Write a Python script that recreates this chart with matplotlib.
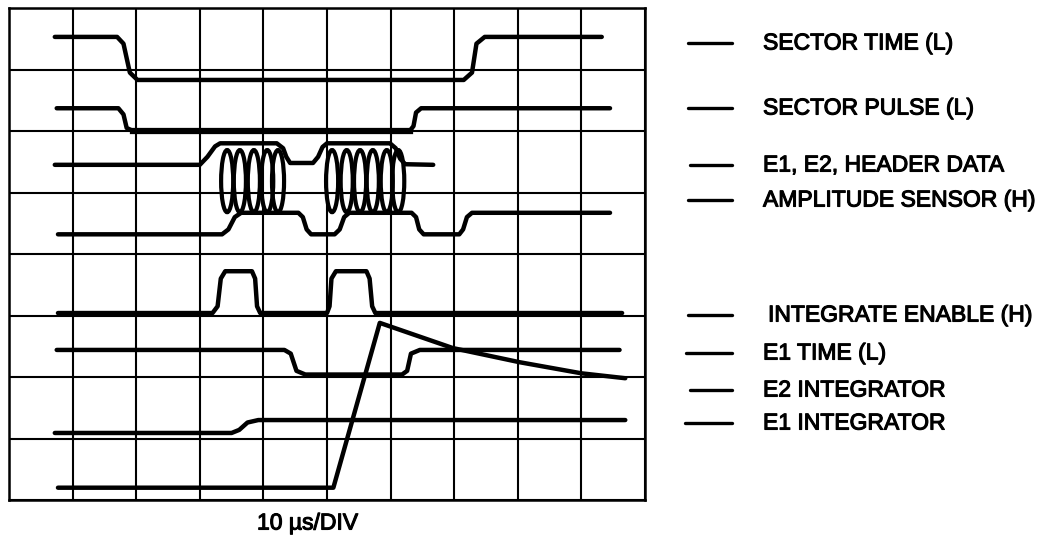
import matplotlib
matplotlib.use("Agg")
import matplotlib.pyplot as plt
import matplotlib.patheffects as pe
from matplotlib.patches import Ellipse

# traces, in divisions (x: 10 div across, y: 8 div up)
sector_time_x = [0.72, 1.70, 1.80, 1.90, 2.02, 7.15, 7.28, 7.35, 7.48, 9.32]
sector_time_y = [7.53, 7.53, 7.42, 6.95, 6.83, 6.83, 6.95, 7.42, 7.53, 7.53]

sector_pulse_x = [0.75, 1.72, 1.80, 1.85, 1.95, 6.30, 6.36, 6.40, 6.48, 9.45]
sector_pulse_y = [6.37, 6.37, 6.27, 6.05, 6.00, 6.00, 6.08, 6.30, 6.37, 6.37]

header_x = [0.72, 3.00, 3.12, 3.24, 3.32, 4.21, 4.31, 4.36, 4.42, 4.78, 4.86, 4.93, 5.00,
            5.99, 6.08, 6.15, 6.23, 6.67]
header_y = [5.45, 5.45, 5.58, 5.75, 5.80, 5.80, 5.72, 5.58, 5.48, 5.48, 5.58, 5.74, 5.80,
            5.80, 5.72, 5.55, 5.46, 5.45]
burst1_loops = [3.43, 3.63, 3.85, 4.06, 4.23]
burst2_loops = [5.08, 5.31, 5.52, 5.72, 5.94, 6.12]
loop_top = 5.69
loop_bottom = 4.68

amp_x = [0.77, 3.35, 3.45, 3.55, 3.65, 4.55, 4.62, 4.68, 4.75, 5.12, 5.20, 5.27, 5.35,
         6.33, 6.40, 6.45, 6.52, 7.08, 7.14, 7.20, 7.28, 9.45]
amp_y = [4.32, 4.32, 4.40, 4.60, 4.67, 4.67, 4.60, 4.40, 4.32, 4.32, 4.40, 4.60, 4.67,
         4.67, 4.60, 4.40, 4.32, 4.32, 4.40, 4.60, 4.67, 4.67]

int_enable_x = [0.77, 3.20, 3.28, 3.33, 3.40, 3.82, 3.87, 3.90, 3.95, 5.00, 5.04, 5.07,
                5.14, 5.62, 5.67, 5.71, 5.76, 9.64]
int_enable_y = [3.04, 3.04, 3.15, 3.60, 3.72, 3.72, 3.60, 3.15, 3.04, 3.04, 3.15, 3.60,
                3.72, 3.72, 3.60, 3.15, 3.04, 3.04]

e1_time_x = [0.75, 4.33, 4.43, 4.52, 4.66, 6.18, 6.26, 6.32, 6.46, 9.60]
e1_time_y = [2.44, 2.44, 2.38, 2.10, 2.04, 2.04, 2.10, 2.38, 2.44, 2.44]

e1_int_x = [0.72, 3.50, 3.62, 3.75, 3.92, 9.69]
e1_int_y = [1.09, 1.09, 1.14, 1.26, 1.30, 1.30]

e2_int_x = [0.77, 5.10, 5.83, 6.98, 8.03, 9.00, 9.69]
e2_int_y = [0.20, 0.20, 2.88, 2.47, 2.24, 2.06, 1.98]

labels = ["SECTOR TIME (L)", "SECTOR PULSE (L)", "E1, E2, HEADER DATA",
          "AMPLITUDE SENSOR (H)", "INTEGRATE ENABLE (H)", "E1 TIME (L)",
          "E2 INTEGRATOR", "E1 INTEGRATOR"]
label_rows = [43, 108, 165, 200, 315, 353, 390, 423]      # pixel rows
label_left = [763, 763, 763, 763, 768, 763, 763, 763]
dash_left = [688, 688, 690, 688, 688, 686, 690, 685]

W, H = 1057, 538
fig = plt.figure(figsize=(W / 100, H / 100), dpi=100)
fig.patch.set_facecolor("white")

ax = fig.add_axes([9 / W, 1 - 500 / H, 636 / W, 492 / H])
ax.set_xlim(0, 10)
ax.set_ylim(0, 8)
ax.set_xticks(range(11))
ax.set_yticks(range(9))
ax.tick_params(length=0, labelbottom=False, labelleft=False)
ax.grid(True, color="black", lw=1.5)
for s in ax.spines.values():
    s.set_linewidth(1.8)

kw = dict(color="black", lw=3.2, solid_capstyle="round", solid_joinstyle="round")
ax.plot(sector_time_x, sector_time_y, **kw)
ax.plot(sector_pulse_x, sector_pulse_y, **kw)
ax.plot(sector_pulse_x[4:6], sector_pulse_y[4:6], color="black", lw=4.5)
ax.plot(header_x, header_y, **kw)
ax.plot(amp_x, amp_y, **kw)
ax.plot(int_enable_x, int_enable_y, **kw)
ax.plot(e1_time_x, e1_time_y, **kw)
ax.plot(e1_int_x, e1_int_y, **kw)
ax.plot(e2_int_x, e2_int_y, **kw)

# the data bursts: narrow coil loops
for xc in burst1_loops + burst2_loops:
    ax.add_patch(Ellipse((xc, (loop_top + loop_bottom) / 2), 0.19, loop_top - loop_bottom,
                         fill=False, ec="black", lw=3.0))

# labels on the right, in pixel coordinates
lab = fig.add_axes([0, 0, 1, 1])
lab.set_xlim(0, W)
lab.set_ylim(H, 0)
lab.axis("off")
bold = [pe.withStroke(linewidth=0.8, foreground="black")]
for t, row, x0, d0 in zip(labels, label_rows, label_left, dash_left):
    lab.plot([d0, 732], [row, row], color="black", lw=2.4, solid_capstyle="round")
    lab.text(x0, row, t, fontsize=16.5, family="Liberation Sans", va="center", ha="left",
             path_effects=bold)

lab.text(257, 523, "10 \u00b5s/DIV", fontsize=16.5, family="Liberation Sans",
         va="center", ha="left", path_effects=bold)

fig.savefig("out.png", dpi=100, facecolor="white")
